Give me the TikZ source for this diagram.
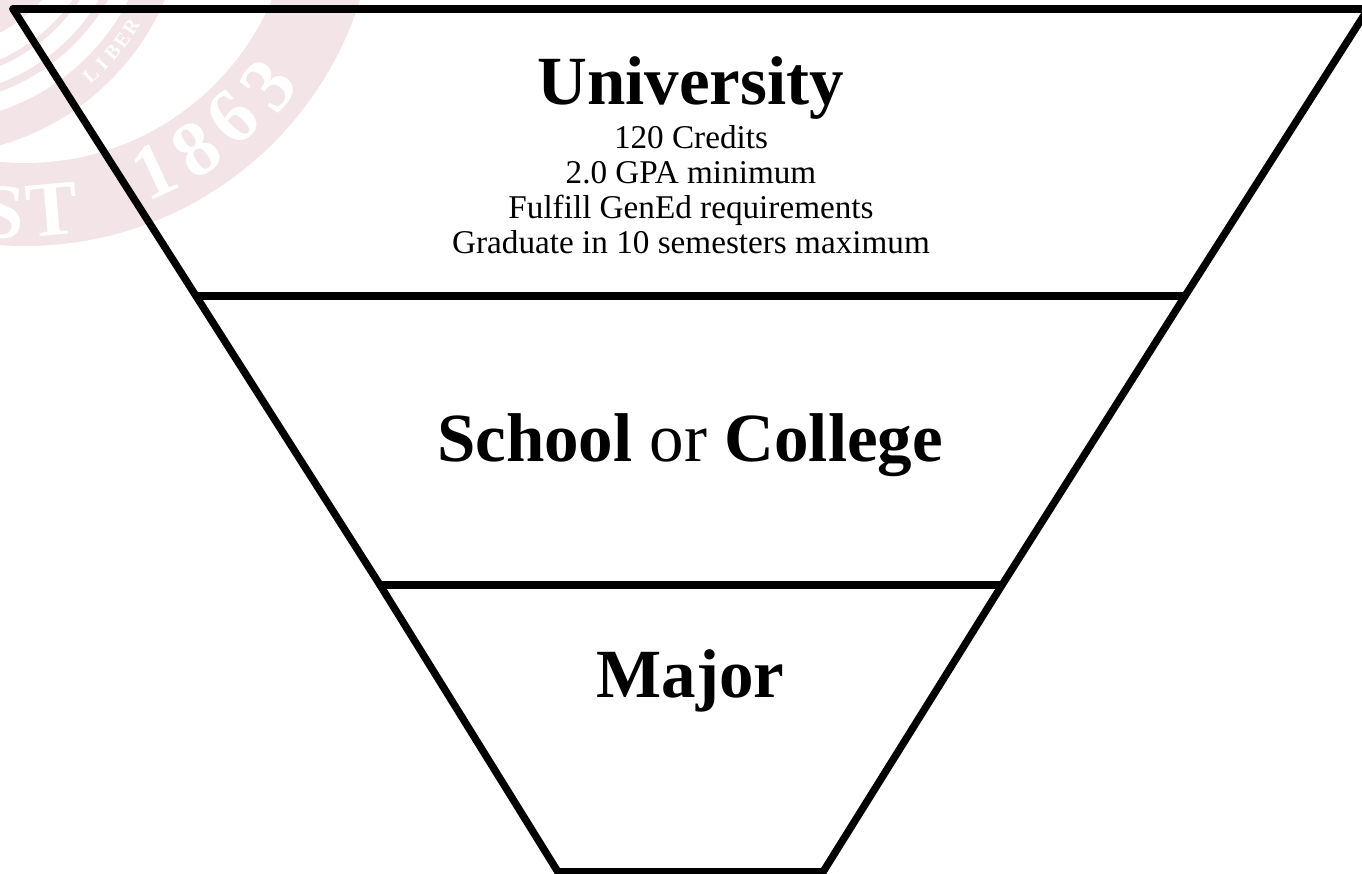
\documentclass[tikz,border=0pt]{standalone}
\usepackage{fontspec}
\setmainfont{Liberation Serif}
\usetikzlibrary{calc}
\definecolor{sealpink}{HTML}{F3E4E7}
\tikzset{
    bigtext/.style={font=\fontsize{69}{72}\selectfont,inner sep=0pt,anchor=base},
    smalltext/.style={font=\fontsize{33.2}{35}\selectfont,inner sep=0pt,align=center},
    sealtext/.style={font=\fontsize{78}{78}\selectfont\bfseries,text=white,inner sep=0pt},
    ringtext/.style={font=\fontsize{20}{20}\selectfont\bfseries,text=white,inner sep=0pt}
}
\begin{document}
\begin{tikzpicture}[x=1pt,y=-1pt,line width=7.4pt,line join=round,line cap=round]
    \clip (0,0) rectangle (1362,874);
    % seal behind the funnel
    \begin{scope}[line width=0pt]
        \coordinate (bandc) at (25,-105);
        \coordinate (sealc) at (-70,-100);
        \fill[sealpink] (bandc) circle (351);
        \fill[white] (bandc) circle (268);
        \fill[sealpink] (sealc) circle (255);
        \fill[white] (sealc) circle (222);
        \fill[sealpink] (sealc) circle (204);
        \fill[white] (sealc) circle (196);
        \fill[sealpink] (sealc) circle (180);
        \fill[white] (sealc) circle (174);
        \fill[sealpink] (sealc) circle (150);
        \foreach \ch/\ang/\rad in {S/94/318,T/85/316,1/65/305,8/56/307,6/47/304,3/38/309}
            \node[sealtext,rotate=90-\ang] (seal\ch) at ($(bandc)+(\ang:\rad)$) {\ch};
        \foreach \ch/\ang in {L/47.5,I/43.7,B/39.9,E/36.1,R/32.3}
            \node[ringtext,rotate=90-\ang] (ring\ch) at ($(sealc)+(\ang:238)$) {\ch};
    \end{scope}
    % corners of the funnel
    \coordinate (topl) at (13,9);
    \coordinate (topr) at (1368,9);
    \coordinate (uppl) at (196,296);
    \coordinate (uppr) at (1185,296);
    \coordinate (lowl) at (380,585);
    \coordinate (lowr) at (1002,585);
    \coordinate (botl) at (558,872);
    \coordinate (botr) at (823,872);
    \draw (topl) -- (topr);
    \draw (topl) -- (uppl) -- (lowl) -- (botl);
    \draw (topr) -- (uppr) -- (lowr) -- (botr);
    \draw (uppl) -- (uppr);
    \draw (lowl) -- (lowr);
    \draw (botl) -- (botr);
    % labels
    \node[bigtext] (university) at (690.5,105) {\textbf{University}};
    \node[smalltext] (rules) at (691,190) {120 Credits\\2.0 GPA minimum\\Fulfill GenEd requirements\\Graduate in 10 semesters maximum};
    \node[bigtext] (school) at (690,461) {\textbf{School} or \textbf{College}};
    \node[bigtext] (major) at (690.5,697) {\textbf{Major}};
\end{tikzpicture}
\end{document}
